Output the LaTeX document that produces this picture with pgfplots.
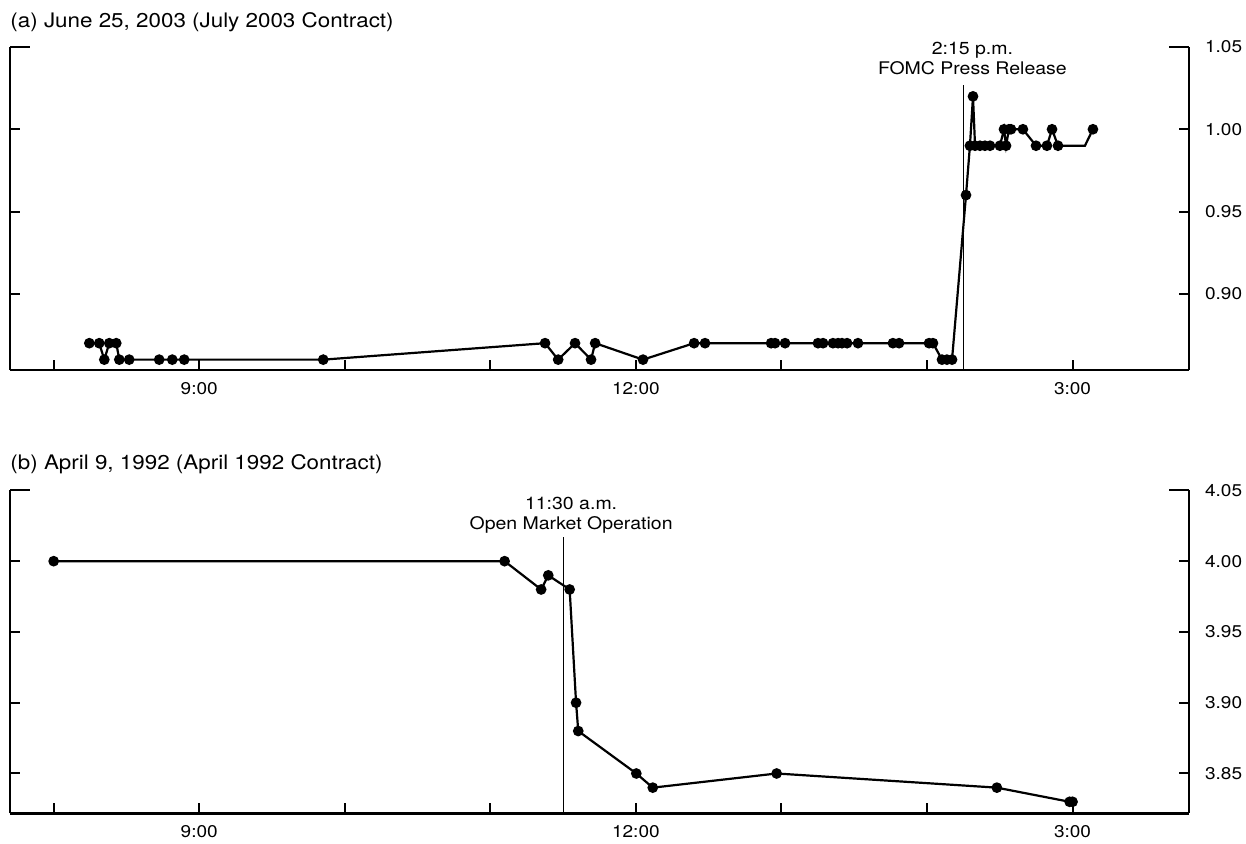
\documentclass[border=0pt]{standalone}
\usepackage{fontspec}
\setmainfont{TeX Gyre Heros}[FakeStretch=1.12]
\usepackage{pgfplots}
\pgfplotsset{compat=1.18}
\pgfplotsset{
  panel/.style={
    scale only axis=true,
    width=589.5pt, height=161.5pt,
    anchor=south west,
    clip=false,
    axis x line*=bottom,
    axis y line*=box,
    axis line style={line width=1.2pt, black},
    every tick/.style={line width=1pt, black},
    tick align=inside,
    major tick length=5pt,
    xmin=7.7, xmax=15.8,
    xtick={8,9,10,11,12,13,14,15},
    xticklabels={,9:00,,,12:00,,,3:00},
    yticklabel pos=right,
    ytick pos=both,
    extra y tick style={major tick length=10pt},
    tick label style={font=\fontsize{8.5}{10}\selectfont},
    xticklabel style={yshift=-2.5pt},
    yticklabel style={xshift=4.5pt},
    /pgf/number format/.cd, fixed, fixed zerofill, precision=2, assume math mode=true,
  },
  dat/.style={black, line width=1.1pt, mark=*, mark size=2.1pt, mark options={solid, fill=black}},
}
\begin{document}
\begin{tikzpicture}
\path[use as bounding box] (0,0) rectangle (623pt,-422pt);
\node[anchor=west, inner sep=0pt, font=\fontsize{10}{12}\selectfont] at (5pt,-11pt) {(a) June 25, 2003 (July 2003 Contract)};
\node[anchor=west, inner sep=0pt, font=\fontsize{10}{12}\selectfont] at (5pt,-232pt) {(b) April 9, 1992 (April 1992 Contract)};
% Panel (a)
\begin{axis}[panel, at={(5pt,-185pt)},
  ymin=0.8537, ymax=1.05,
  ytick={0.90,0.95,1.00}, extra y ticks={1.05}]
\addplot[dat] coordinates {
(8.245,0.87) (8.313,0.87) (8.348,0.86) (8.382,0.87) (8.430,0.87) (8.451,0.86)
(8.519,0.86) (8.725,0.86) (8.815,0.86) (8.897,0.86) (9.852,0.86)
(11.376,0.87) (11.466,0.86) (11.582,0.87) (11.692,0.86) (11.720,0.87) (12.049,0.86)
(12.400,0.87) (12.475,0.87) (12.929,0.87) (12.956,0.87) (13.025,0.87)
(13.251,0.87) (13.286,0.87) (13.354,0.87) (13.389,0.87) (13.416,0.87) (13.451,0.87)
(13.526,0.87) (13.766,0.87) (13.808,0.87) (14.014,0.87) (14.041,0.87)
(14.103,0.86) (14.137,0.86) (14.172,0.86)
(14.268,0.96) (14.295,0.99) (14.316,1.02) (14.330,0.99) (14.364,0.99) (14.398,0.99)
(14.433,0.99) (14.501,0.99) (14.529,1.00) (14.543,0.99) (14.563,1.00) (14.577,1.00)
(14.659,1.00) (14.749,0.99) (14.824,0.99) (14.859,1.00) (14.900,0.99)
};
\addplot[dat, mark indices={3}] coordinates {(14.900,0.99) (15.085,0.99) (15.140,1.00)};
\draw[line width=0.5pt] (axis cs:14.25,0.8537) -- (axis cs:14.25,1.027);
\node[anchor=south, inner sep=0pt, align=center, font=\fontsize{8.7}{10}\selectfont, xshift=4.5pt, yshift=5pt]
  at (axis cs:14.25,1.027) {2:15 p.m.\\FOMC Press Release};
\end{axis}
% Panel (b)
\begin{axis}[panel, at={(5pt,-406.7pt)},
  ymin=3.8218, ymax=4.05,
  ytick={3.85,3.90,3.95,4.00}, extra y ticks={4.05}]
\addplot[dat] coordinates {
(8.0,4.00) (11.098,4.00) (11.349,3.98) (11.398,3.99) (11.545,3.98) (11.589,3.90)
(11.604,3.88) (12.003,3.85) (12.116,3.84) (12.967,3.85) (14.48,3.84) (14.98,3.83) (15.0,3.83)
};
\draw[line width=0.5pt] (axis cs:11.5,3.8218) -- (axis cs:11.5,4.017);
\node[anchor=south, inner sep=0pt, align=center, font=\fontsize{8.7}{10}\selectfont, xshift=4pt, yshift=1.5pt]
  at (axis cs:11.5,4.017) {11:30 a.m.\\Open Market Operation};
\end{axis}
\end{tikzpicture}
\end{document}
